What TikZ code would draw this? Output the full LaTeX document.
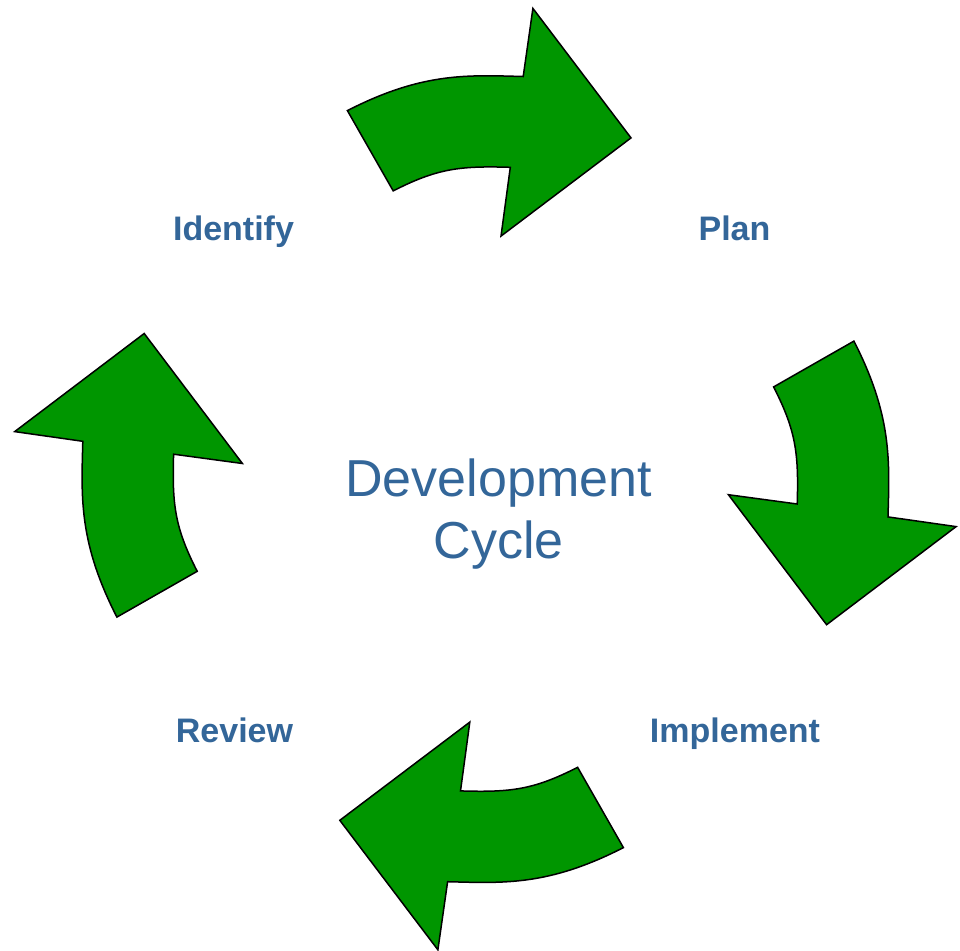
\documentclass[tikz,border=0pt]{standalone}
\usepackage{fontspec}
\setmainfont{Liberation Sans}
\definecolor{lbl}{RGB}{51,102,153}
\definecolor{arrowgreen}{RGB}{0,150,0}
\tikzset{
  cyclearrow/.style={draw=black, line width=1.5pt, fill=arrowgreen, line join=miter},
  steplabel/.style={anchor=base, text=lbl, font=\fontsize{34}{40}\selectfont\bfseries, inner sep=0pt},
  centertext/.style={anchor=base, text=lbl, font=\fontsize{52}{62}\selectfont, inner sep=0pt}
}
\begin{document}
\begin{tikzpicture}[x=1pt, y=-1pt]
\useasboundingbox (0,0) rectangle (960,950);
\foreach \r in {0,-90,-180,-270}{
  \begin{scope}[shift={(485.4,479.1)}, rotate=\r]
    \draw[cyclearrow] (-138,-368.5) .. controls (-62.7,-407.1) and (-17.7,-404) .. (37.8,-402.6)
      -- (47.5,-470.7) -- (145.6,-341.2) -- (15.6,-243) -- (24.9,-311.8)
      .. controls (-25.4,-313.3) and (-48,-310.8) .. (-92.2,-288.2) -- cycle;
  \end{scope}
}
\node[steplabel] (identify) at (233.5,240.7) {Identify};
\node[steplabel] (plan) at (734.5,240.7) {Plan};
\node[steplabel] (implement) at (735,742.5) {Implement};
\node[steplabel] (review) at (234.5,742.5) {Review};
\node[centertext] (dev) at (498.5,496.7) {Development};
\node[centertext] (cyc) at (498.5,558.3) {Cycle};
\end{tikzpicture}
\end{document}
